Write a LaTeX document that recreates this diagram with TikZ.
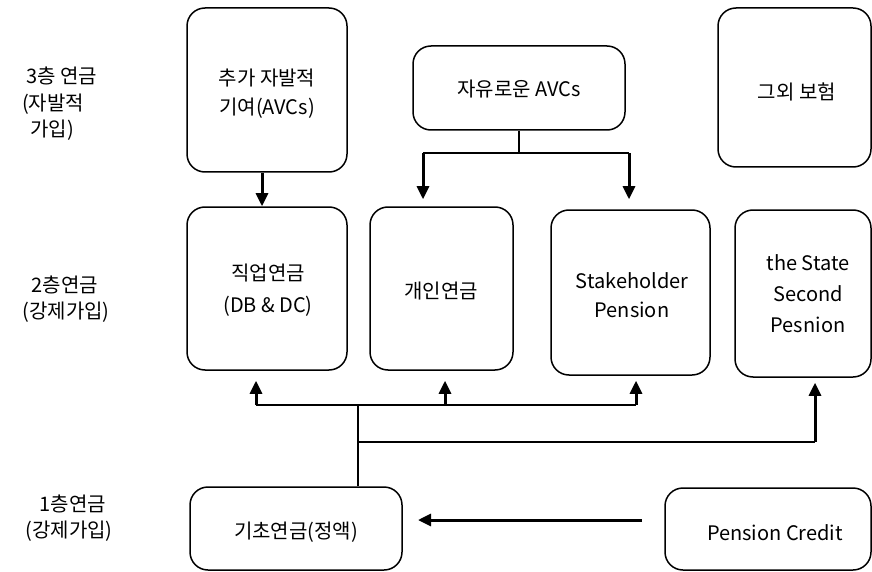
\documentclass[tikz,border=0pt]{standalone}
\usepackage{fontspec}
\setmainfont{Noto Sans CJK KR}
\usetikzlibrary{arrows.meta}
\begin{document}
\begin{tikzpicture}[x=1pt,y=-1pt,
  box/.style={draw,line width=1.5pt,rounded corners=18pt,inner sep=0pt},
  txt/.style={font=\fontsize{20}{29}\selectfont,align=center,inner sep=0pt},
  thinln/.style={line width=1.5pt},
  arr/.style={line width=3pt,-{Triangle[length=13pt,width=12pt]}}]
\useasboundingbox (0,0) rectangle (872,572);
% boxes
\node[box,minimum width=160pt,minimum height=164pt] (A) at (267,90) {};
\node[box,minimum width=212pt,minimum height=84pt] (B) at (519,88) {};
\node[box,minimum width=153pt,minimum height=159pt] (C) at (794.5,87.5) {};
\node[box,minimum width=160pt,minimum height=163pt] (D) at (267,288.5) {};
\node[box,minimum width=143pt,minimum height=163pt] (E) at (441.5,288.5) {};
\node[box,minimum width=159pt,minimum height=165pt] (F) at (630.5,292.5) {};
\node[box,minimum width=136pt,minimum height=167pt] (G) at (803,293.5) {};
\node[box,minimum width=212pt,minimum height=83pt] (H) at (296,528.5) {};
\node[box,minimum width=206pt,minimum height=82pt] (I) at (768,529) {};
% texts in boxes
\node[txt] (tA) at (267,94) {추가 자발적\\기여(AVCs)};
\node[txt] (tB) at (519,89) {자유로운 AVCs};
\node[txt] (tC) at (797,92) {그외 보험};
\node[txt,font=\fontsize{20}{32}\selectfont] (tD) at (268,290) {직업연금\\(DB \& DC)};
\node[txt] (tE) at (441,291) {개인연금};
\node[txt] (tF) at (632,295) {Stakeholder\\Pension};
\node[txt,font=\fontsize{20}{31}\selectfont] (tG) at (808,294) {the State\\Second\\Pesnion};
\node[txt] (tH) at (296,532) {기초연금(정액)};
\node[txt] (tI) at (775,533) {Pension Credit};
% left labels
\node[txt] (l3a) at (62,76) {3층 연금};
\node[txt] (l3b) at (53,104) {(자발적};
\node[txt] (l3c) at (52,130) {가입)};
\node[txt] (l2a) at (65,285) {2층연금};
\node[txt] (l2b) at (66,312) {(강제가입)};
\node[txt] (l1a) at (73,504) {1층연금};
\node[txt] (l1b) at (69,531) {(강제가입)};
% connectors
\draw[arr] ([xshift=-5pt]A.south) -- ([xshift=-5pt]D.north);
\coordinate (fk) at (519,153);
\coordinate (fl) at (423,153);
\coordinate (fr) at (629,153);
\draw[thinln] (B.south) -- (fk);
\draw[thinln] (fl) -- (fr);
\draw[arr] (fl) -- ([yshift=7pt]E.north -| fl);
\draw[arr] (fr) -- ([yshift=10pt]F.north -| fr);
\coordinate (t1) at (358,405);
\coordinate (t2) at (358,442);
\coordinate (b1) at (256,405);
\coordinate (b2) at (445,405);
\coordinate (b3) at (636,405);
\coordinate (b4) at (815,442);
\draw[thinln] (H.north -| t1) -- (t1);
\draw[thinln] (b1) -- (b3);
\draw[thinln] (t2) -- (b4);
\draw[arr] (b1) -- ([yshift=-10pt]D.south -| b1);
\draw[arr] (b2) -- ([yshift=-10pt]E.south -| b2);
\draw[arr] (b3) -- ([yshift=-5pt]F.south -| b3);
\draw[arr] (b4) -- ([yshift=-5pt]G.south -| b4);
\coordinate (ps) at (642,520);
\coordinate (pe) at (418,520);
\draw[arr] (ps) -- (pe);
\end{tikzpicture}
\end{document}
